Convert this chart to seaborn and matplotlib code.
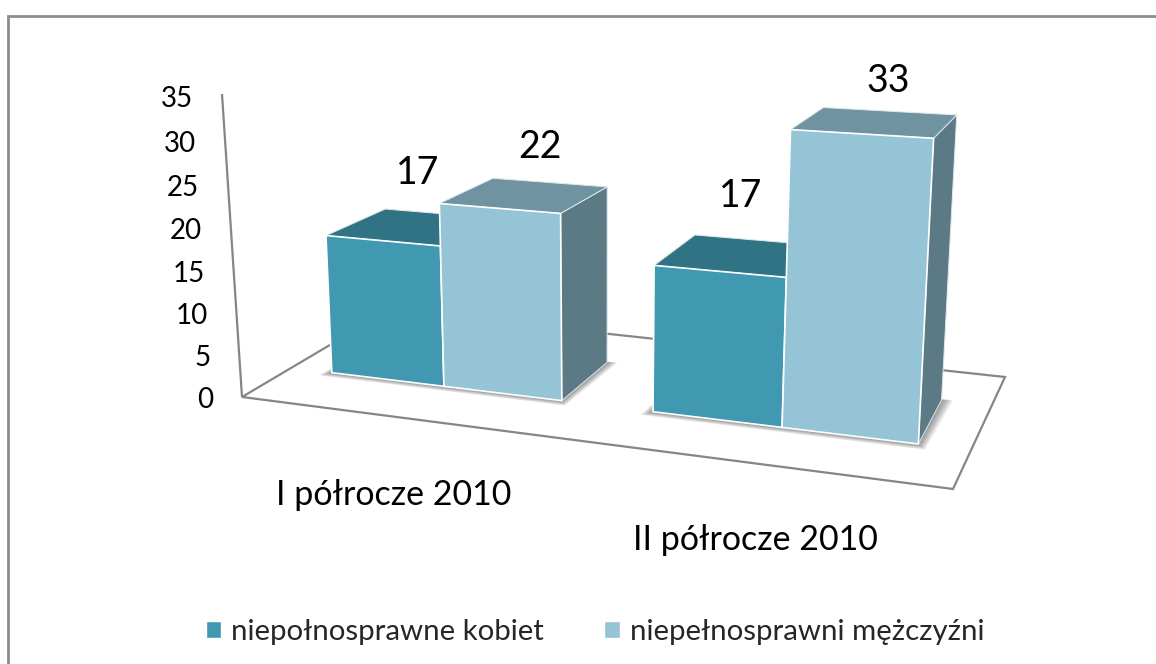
import numpy as np
import pandas as pd
import matplotlib
matplotlib.use("Agg")
import matplotlib.pyplot as plt
from matplotlib.patches import Polygon
from matplotlib.transforms import Transform
from matplotlib.colors import to_rgb
import seaborn as sns

# ---- data ----
periods = ["I półrocze 2010", "II półrocze 2010"]
series_names = ["niepołnosprawne kobiet", "niepełnosprawni mężczyźni"]
kobiety = [17, 17]
mezczyzni = [22, 33]
y_ticks = [0, 5, 10, 15, 20, 25, 30, 35]
palette = ["#4099B1", "#95C4D6"]

W, H = 1156, 664
sns.set_theme(style="white")
plt.rcParams["font.family"] = ["Lato", "DejaVu Sans"]

df = pd.DataFrame({
    "okres": periods * 2,
    "seria": [series_names[0]] * 2 + [series_names[1]] * 2,
    "liczba": kobiety + mezczyzni,
})

fig = plt.figure(figsize=(W / 100, H / 100), dpi=100, facecolor="white")
ax = fig.add_axes([0, 0, 1, 1])
sns.barplot(data=df, x="okres", y="liczba", hue="seria", hue_order=series_names,
            palette=palette, width=0.73, saturation=1, dodge=True, ax=ax, legend=True)

# bars in reading order: (first period, second period) for each series
cont = ax.containers
bars = [cont[0][0], cont[1][0], cont[0][1], cont[1][1]]
edges = [bars[0].get_x(), bars[1].get_x(), bars[1].get_x() + bars[1].get_width(),
         bars[2].get_x(), bars[3].get_x(), bars[3].get_x() + bars[3].get_width()]
x0, x1, x2, x3, x4, x5 = edges

# ---- camera calibration: the oblique view of the reference (layout, not data) ----
calib = [
    (x0, 17, 0, 327, 236), (x1, 17, 0, 440, 246), (x0, 0, 0, 332, 372), (x1, 0, 0, 443, 386),
    (x0, 17, 1, 385, 209), (x1, 22, 0, 439, 203), (x2, 22, 0, 560, 213), (x2, 0, 0, 562, 401),
    (x1, 22, 1, 493, 178), (x2, 22, 1, 606, 188), (x2, 0, 1, 607, 362), (x3, 17, 0, 656, 266),
    (x4, 17, 0, 786, 278), (x3, 0, 0, 653, 412), (x4, 0, 0, 782, 428), (x3, 17, 1, 696, 236),
    (x4, 33, 0, 791, 129), (x5, 33, 0, 933, 138), (x4, 33, 1, 824, 107), (x5, 33, 1, 956, 115),
    (x5, 0, 0, 918, 444), (x5, 0, 1, 942, 399),
]
A, b = [], []
for X, Y, Z, u, v in calib:
    A.append([X, Y, Z, 1, 0, 0, 0, 0, -u * X, -u * Y, -u * Z]); b.append(u)
    A.append([0, 0, 0, 0, X, Y, Z, 1, -v * X, -v * Y, -v * Z]); b.append(v)
p = np.linalg.lstsq(np.array(A, float), np.array(b, float), rcond=None)[0]
P = np.append(p, 1.0).reshape(3, 4)


def project(X, Y, Z=0.0):
    h = P @ np.array([X, Y, Z, 1.0])
    return h[0] / h[2], h[1] / h[2]


class FrontPlane(Transform):
    input_dims = 2
    output_dims = 2
    is_affine = False

    def transform_non_affine(self, values):
        values = np.asarray(values, float)
        return np.array([project(a, c) for a, c in values])


# pixel canvas
ax.set_xlim(0, W)
ax.set_ylim(H, 0)
ax.axis("off")
front = FrontPlane()

# ---- frame, floor and wall ----
line_c = "#868686"
ax.plot([8, 8, W], [H, 16, 16], color="#8c8c8c", lw=2, zorder=1, solid_joinstyle="miter")
floor = [(242, 397), (389, 310), (1005, 377), (953, 489)]
ax.add_patch(Polygon(floor, closed=True, fill=False, ec=line_c, lw=1.6, zorder=1.2))
ax.plot([242, 222], [397, 94], color=line_c, lw=1.6, zorder=1.2, solid_capstyle="butt")

# ---- soft shadow on the floor ----
for (xa, xb) in [(x0, x2), (x3, x5)]:
    for s in np.linspace(0.11, 0.0, 12):
        dz = s * 1.1
        dx = s * 0.22
        poly = [project(xa - dx, 0, -0.005 - dz * 0.8), project(xb + dx, 0, -0.005 - dz * 0.8),
                project(xb + dx * 1.3, 0, 1 + dz * 0.2), project(xa - dx, 0, 1 + dz * 0.2)]
        ax.add_patch(Polygon(poly, closed=True, fc="black", ec="none", alpha=0.045, zorder=1.5))

# ---- bars: front faces are the seaborn bars, top and side derived from them ----
for i, bar in enumerate(bars):
    xa, xb = bar.get_x(), bar.get_x() + bar.get_width()
    val = bar.get_height()
    base = np.array(to_rgb(bar.get_facecolor()))
    base_z = 2 + i * 0.3
    bar.set_transform(front + ax.transData)
    bar.set_edgecolor("white")
    bar.set_linewidth(1.2)
    bar.set_clip_on(False)
    bar.set_zorder(base_z + 0.2)
    top = [project(xa, val), project(xb, val), project(xb, val, 1), project(xa, val, 1)]
    side = [project(xb, 0), project(xb, val), project(xb, val, 1), project(xb, 0, 1)]
    ax.add_patch(Polygon(side, closed=True, fc=base * 0.62, ec="#dfe8eb", lw=0.7, zorder=base_z))
    ax.add_patch(Polygon(top, closed=True, fc=base * 0.75, ec="#dfe8eb", lw=0.7, zorder=base_z + 0.1))

# ---- value labels ----
label_offsets = [(35, -68), (41, -61), (21, -75), (27, -53)]
for bar, (ox, oy) in zip(bars, label_offsets):
    cx, cy = project(bar.get_x() + bar.get_width() / 2, bar.get_height())
    ax.text(cx + ox, cy + oy, f"{bar.get_height():.0f}", ha="center", va="center",
            fontsize=27, color="black", zorder=6)

# ---- y tick labels, following the leaning wall ----
for t in y_ticks:
    py = (-8.709 * t + 397) / (-0.001136 * t + 1) + 3
    wall_x = 242 - 20 * (397 - py) / 303
    ax.text(wall_x - 29, py, str(t), ha="right", va="center", fontsize=20, color="black", zorder=6)

# ---- category labels ----
cat_pos = [(394, 495), (755, 540)]
for name, (cx, cy) in zip(periods, cat_pos):
    ax.text(cx, cy, name, ha="center", va="center", fontsize=24.5, color="black", zorder=6)

# ---- legend ----
sns.move_legend(ax, "center", bbox_to_anchor=(595 / W, 1 - 632 / H), ncol=2, frameon=False,
                title=None, fontsize=21.2, handlelength=0.52, handleheight=0.52,
                handletextpad=0.35, columnspacing=2.05, borderpad=0)

fig.savefig("out.png", dpi=100, facecolor="white")
